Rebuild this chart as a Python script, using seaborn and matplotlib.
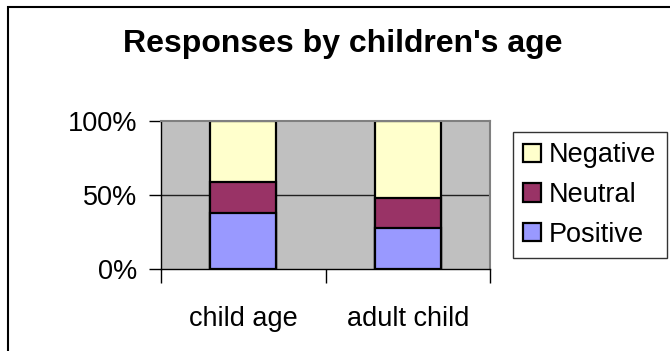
import matplotlib
matplotlib.use("Agg")
import matplotlib.pyplot as plt
import seaborn as sns
import pandas as pd
from matplotlib.patches import Rectangle, Patch
from matplotlib.ticker import PercentFormatter, FixedLocator

# values (percent of responses)
groups = ["child age", "adult child"]
positive = [38, 28]
neutral = [21, 20]
negative = [41, 52]

series_names = ["Negative", "Neutral", "Positive"]
series_colors = {"Positive": "#9999FF", "Neutral": "#993366", "Negative": "#FFFFCC"}

sns.set_theme(style="white")
plt.rcParams["font.family"] = ["Liberation Sans", "DejaVu Sans"]
plt.rcParams["text.color"] = "black"
plt.rcParams["xtick.color"] = "black"
plt.rcParams["ytick.color"] = "black"

df = pd.DataFrame({"group": groups, "Positive": positive,
                   "Neutral": neutral, "Negative": negative})
# cumulative tops for stacking, drawn from the tallest down
df["top_neu"] = df["Positive"] + df["Neutral"]
df["top_neg"] = df["top_neu"] + df["Negative"]

fig = plt.figure(figsize=(6.7, 3.51), dpi=100)
ax = fig.add_axes([161 / 670, 1 - 269 / 351, 329 / 670, 148 / 351])
ax.set_facecolor("#C0C0C0")

bar_kw = dict(width=0.4, edgecolor="black", linewidth=1.6, saturation=1, ax=ax)
sns.barplot(data=df, x="group", y="top_neg", color=series_colors["Negative"], **bar_kw)
sns.barplot(data=df, x="group", y="top_neu", color=series_colors["Neutral"], **bar_kw)
sns.barplot(data=df, x="group", y="Positive", color=series_colors["Positive"], **bar_kw)

ax.set_xlim(-0.5, 1.5)
ax.set_ylim(0, 100)
ax.set_xlabel("")
ax.set_ylabel("")
ax.yaxis.set_major_locator(FixedLocator([0, 50, 100]))
ax.yaxis.set_major_formatter(PercentFormatter(decimals=0))
ax.axhline(50, color="#202020", lw=1, zorder=0.5)

ax.xaxis.set_minor_locator(FixedLocator([-0.5, 0.5, 1.5]))
ax.tick_params(axis="x", which="major", length=0, pad=27, labelsize=19.5, labelcolor="black")
ax.tick_params(axis="x", which="minor", length=10, width=1, color="black", direction="out", bottom=True)
ax.tick_params(axis="y", length=9, width=1, color="black", direction="out", left=True, pad=8,
               labelsize=19.5, labelcolor="black")

for side in ["top", "right"]:
    ax.spines[side].set_color("#808080")
    ax.spines[side].set_linewidth(1.5)
for side in ["left", "bottom"]:
    ax.spines[side].set_color("black")
    ax.spines[side].set_linewidth(1)

fig.text(343 / 670, 1 - 52 / 351, "Responses by children's age", ha="center", va="baseline",
         fontsize=23, fontweight="bold", color="black")

handles = [Patch(facecolor=series_colors[n], edgecolor="black", linewidth=1.6, label=n) for n in series_names]
leg = fig.legend(handles=handles, loc="center",
                 bbox_to_anchor=((512 + 668) / 2 / 670, 1 - (133 + 257) / 2 / 351),
                 fontsize=19.5, frameon=True, fancybox=False, borderpad=0.4,
                 handlelength=0.65, handleheight=0.65, handletextpad=0.3, labelspacing=0.5)
leg.get_frame().set_edgecolor("black")
leg.get_frame().set_linewidth(1)
for t in leg.get_texts():
    t.set_color("black")

fig.patches.append(Rectangle((8 / 670, -0.2), 1.2, 1.2 - 7 / 351, transform=fig.transFigure,
                             fill=False, edgecolor="black", linewidth=1.5))

fig.savefig("out.png", dpi=100)
